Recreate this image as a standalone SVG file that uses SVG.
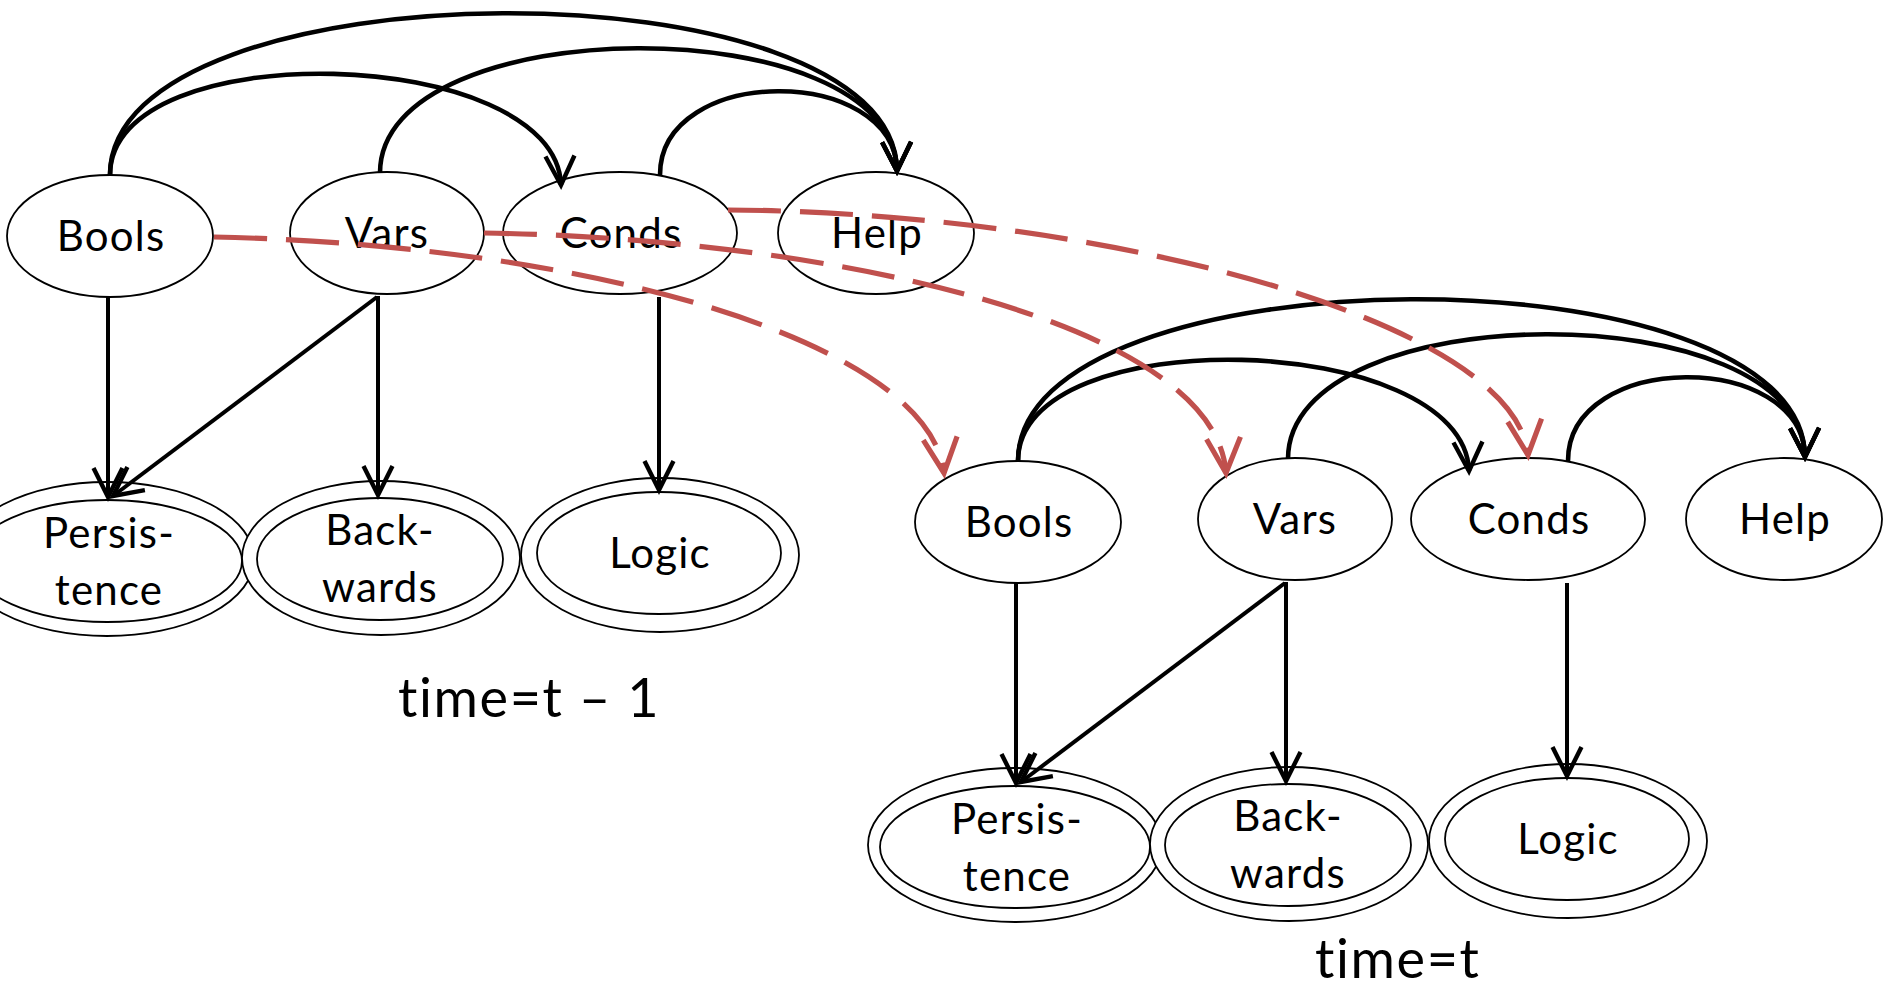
<svg xmlns="http://www.w3.org/2000/svg" width="1886" height="989" viewBox="0 0 1886 989">
<defs>
<style>
.node ellipse { fill: #fff; stroke: #000; stroke-width: 1.8; }
.lbl { font-family: Lato, "Liberation Sans", sans-serif; font-size: 42px; letter-spacing: 1.2px; text-anchor: middle; fill: #000; font-variant-ligatures: none; font-feature-settings: "liga" 0; }
.cap { font-family: Lato, "Liberation Sans", sans-serif; font-size: 54px; letter-spacing: 1.6px; fill: #000; font-variant-ligatures: none; font-feature-settings: "liga" 0; }
.edge { fill: none; stroke: #000; stroke-width: 4; marker-end: url(#ah); }
.arc { stroke-width: 4.6; }
.dash { fill: none; stroke: #C0504D; stroke-width: 5.2; stroke-dasharray: 53 19; marker-end: url(#ahr); }
</style>
<marker id="ah" markerUnits="userSpaceOnUse" viewBox="-34 -20 38 40" markerWidth="38" markerHeight="40" refX="0" refY="0" orient="auto" overflow="visible">
<path d="M-29,-14.5 L0,0 L-29,14.5" fill="none" stroke="#000" stroke-width="4.4"/>
</marker>
<marker id="ahr" markerUnits="userSpaceOnUse" viewBox="-40 -22 44 44" markerWidth="44" markerHeight="44" refX="0" refY="0" orient="auto" overflow="visible">
<path d="M-35,-17 L0,0 L-35,17" fill="none" stroke="#C0504D" stroke-width="5.2"/>
</marker>
</defs>
<rect width="1886" height="989" fill="#fff"/>

<g id="slice-t-1">
  <g id="bools-t1" class="node"><ellipse cx="110" cy="236" rx="103" ry="61"/><text class="lbl" x="111" y="251">Bools</text></g>
  <g id="vars-t1" class="node"><ellipse cx="387" cy="233" rx="97" ry="61"/><text class="lbl" x="387" y="248">Vars</text></g>
  <g id="conds-t1" class="node"><ellipse cx="620" cy="233" rx="117" ry="61"/><text class="lbl" x="621" y="248">Conds</text></g>
  <g id="help-t1" class="node"><ellipse cx="876" cy="233" rx="98" ry="61"/><text class="lbl" x="877" y="248">Help</text></g>
  <g id="persistence-t1" class="node"><ellipse cx="107" cy="559" rx="147" ry="77"/><ellipse cx="107" cy="561" rx="135" ry="61"/><text class="lbl" x="109" y="548">Persis-</text><text class="lbl" x="109" y="605">tence</text></g>
  <g id="backwards-t1" class="node"><ellipse cx="381" cy="558" rx="139" ry="77"/><ellipse cx="380" cy="559" rx="123" ry="61"/><text class="lbl" x="380" y="545">Back-</text><text class="lbl" x="380" y="602">wards</text></g>
  <g id="logic-t1" class="node"><ellipse cx="660" cy="555" rx="139" ry="77"/><ellipse cx="659" cy="553" rx="122" ry="61"/><text class="lbl" x="660" y="568">Logic</text></g>
</g>

<g id="slice-t" transform="translate(908,286)">
  <g id="bools-t" class="node"><ellipse cx="110" cy="236" rx="103" ry="61"/><text class="lbl" x="111" y="251">Bools</text></g>
  <g id="vars-t" class="node"><ellipse cx="387" cy="233" rx="97" ry="61"/><text class="lbl" x="387" y="248">Vars</text></g>
  <g id="conds-t" class="node"><ellipse cx="620" cy="233" rx="117" ry="61"/><text class="lbl" x="621" y="248">Conds</text></g>
  <g id="help-t" class="node"><ellipse cx="876" cy="233" rx="98" ry="61"/><text class="lbl" x="877" y="248">Help</text></g>
  <g id="persistence-t" class="node"><ellipse cx="107" cy="559" rx="147" ry="77"/><ellipse cx="107" cy="561" rx="135" ry="61"/><text class="lbl" x="109" y="548">Persis-</text><text class="lbl" x="109" y="605">tence</text></g>
  <g id="backwards-t" class="node"><ellipse cx="381" cy="558" rx="139" ry="77"/><ellipse cx="380" cy="559" rx="123" ry="61"/><text class="lbl" x="380" y="545">Back-</text><text class="lbl" x="380" y="602">wards</text></g>
  <g id="logic-t" class="node"><ellipse cx="660" cy="555" rx="139" ry="77"/><ellipse cx="659" cy="553" rx="122" ry="61"/><text class="lbl" x="660" y="568">Logic</text></g>
</g>

<g id="connectors">
  <g id="edges-t1">
    <path class="edge arc" d="M110,175 C110,-38 895,-42 897,171"/>
    <path class="edge arc" d="M110,175 C110,32 556,45 561,185"/>
    <path class="edge arc" d="M380,173 C380,8 895,6 897,171"/>
    <path class="edge arc" d="M660,175 C660,64 895,64 897,171"/>
    <path class="edge" d="M108,297 L108,497"/>
    <path class="edge" d="M377,297 L113,496"/>
    <path class="edge" d="M378,296 L378,495"/>
    <path class="edge" d="M659,297 L659,490"/>
  </g>
  <g id="edges-t" transform="translate(908,286)">
    <path class="edge arc" d="M110,175 C110,-38 895,-42 897,171"/>
    <path class="edge arc" d="M110,175 C110,32 556,45 561,185"/>
    <path class="edge arc" d="M380,173 C380,8 895,6 897,171"/>
    <path class="edge arc" d="M660,175 C660,64 895,64 897,171"/>
    <path class="edge" d="M108,297 L108,497"/>
    <path class="edge" d="M377,297 L113,496"/>
    <path class="edge" d="M378,296 L378,495"/>
    <path class="edge" d="M659,297 L659,490"/>
  </g>
  <g id="temporal-edges">
    <path class="dash" d="M214,237 C600,245 930,345 944,473"/>
    <path class="dash" d="M484,233 C820,238 1215,320 1226,473"/>
    <path class="dash" d="M728,210 C1100,212 1515,320 1528,455"/>
  </g>
</g>

<text class="cap" x="398" y="717">time=t – 1</text>
<text class="cap" x="1315" y="978">time=t</text>
</svg>
